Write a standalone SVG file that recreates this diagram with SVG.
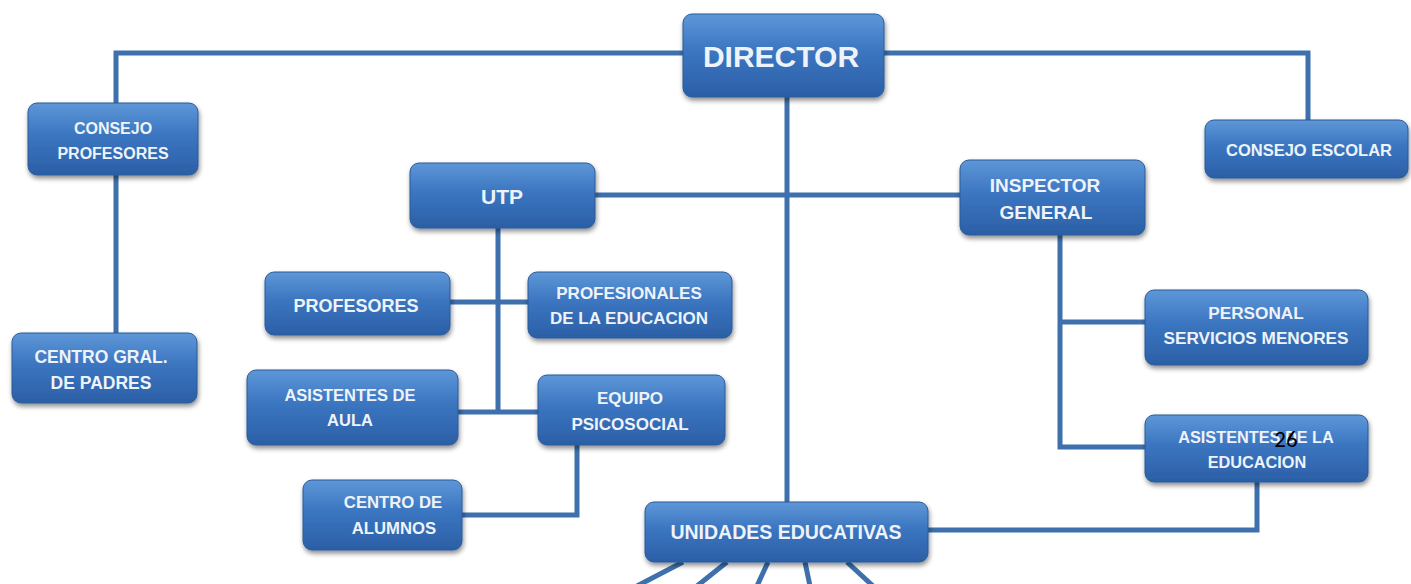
<svg xmlns="http://www.w3.org/2000/svg" width="1411" height="584" viewBox="0 0 1411 584">
<defs>
<linearGradient id="bg" x1="0" y1="0" x2="0" y2="1">
<stop offset="0" stop-color="#5e97d8"/>
<stop offset="0.45" stop-color="#3b75c0"/>
<stop offset="1" stop-color="#2b5fa6"/>
</linearGradient>
<filter id="sh" x="-20%" y="-30%" width="140%" height="170%">
<feGaussianBlur in="SourceAlpha" stdDeviation="2.5"/>
<feOffset dx="1" dy="3" result="b"/>
<feComponentTransfer><feFuncA type="linear" slope="0.45"/></feComponentTransfer>
<feMerge><feMergeNode/><feMergeNode in="SourceGraphic"/></feMerge>
</filter>
</defs>
<style>
.box{fill:url(#bg);stroke:#2a5a98;stroke-width:1;filter:url(#sh)}
.t{font-family:"Liberation Sans",Arial,sans-serif;font-weight:bold;fill:#eef3fa;text-anchor:middle;font-size:17px}
.c{fill:none;stroke:#3d70ad;stroke-width:5}
</style>
<rect width="1411" height="584" fill="#ffffff"/>
<g id="connectors">
<path class="c" d="M116,103 V53 H683"/>
<path class="c" d="M884,53 H1308 V120"/>
<path class="c" d="M787,97 V502"/>
<path class="c" d="M595,195 H960"/>
<path class="c" d="M116,175 V333"/>
<path class="c" d="M498,228 V412"/>
<path class="c" d="M450,302 H528"/>
<path class="c" d="M458,412 H538"/>
<path class="c" d="M577,445 V515 H462"/>
<path class="c" d="M1060,235 V447 H1148"/>
<path class="c" d="M1060,322 H1145"/>
<path class="c" d="M928,530 H1257 V482"/>
<path class="c" d="M683,562 L637,586 M727,562 L697,586 M768,562 L757,586 M805,562 L810,586 M847,562 L873,586"/>
</g>
<g id="director"><rect class="box" x="683" y="14" width="201" height="83" rx="9"/><text class="t" x="781" y="67" style="font-size:30px">DIRECTOR</text></g>
<g id="consejo-profesores"><rect class="box" x="28" y="103" width="170" height="72" rx="9"/><text class="t" x="113" y="134" style="font-size:16px">CONSEJO</text><text class="t" x="113" y="159" style="font-size:16px">PROFESORES</text></g>
<g id="consejo-escolar"><rect class="box" x="1205" y="120" width="203" height="58" rx="9"/><text class="t" x="1309" y="156" style="font-size:16.5px">CONSEJO ESCOLAR</text></g>
<g id="utp"><rect class="box" x="410" y="163" width="185" height="65" rx="9"/><text class="t" x="502" y="204" style="font-size:21px">UTP</text></g>
<g id="inspector-general"><rect class="box" x="960" y="160" width="185" height="75" rx="9"/><text class="t" x="1045" y="192" style="font-size:19px">INSPECTOR</text><text class="t" x="1046" y="219" style="font-size:19px">GENERAL</text></g>
<g id="profesores"><rect class="box" x="265" y="272" width="185" height="63" rx="9"/><text class="t" x="356" y="312" style="font-size:18px">PROFESORES</text></g>
<g id="profesionales"><rect class="box" x="528" y="272" width="204" height="66" rx="9"/><text class="t" x="629" y="299">PROFESIONALES</text><text class="t" x="629" y="324">DE LA EDUCACION</text></g>
<g id="asistentes-aula"><rect class="box" x="247" y="370" width="211" height="75" rx="9"/><text class="t" x="350" y="401" style="font-size:16.5px">ASISTENTES DE</text><text class="t" x="350" y="426" style="font-size:16.5px">AULA</text></g>
<g id="equipo-psicosocial"><rect class="box" x="538" y="375" width="187" height="70" rx="9"/><text class="t" x="630" y="404">EQUIPO</text><text class="t" x="630" y="430">PSICOSOCIAL</text></g>
<g id="centro-alumnos"><rect class="box" x="303" y="480" width="159" height="70" rx="9"/><text class="t" x="393" y="508" style="font-size:16.7px">CENTRO DE</text><text class="t" x="394" y="534" style="font-size:16.7px">ALUMNOS</text></g>
<g id="centro-padres"><rect class="box" x="12" y="333" width="185" height="70" rx="9"/><text class="t" x="101" y="363" style="font-size:17.5px">CENTRO GRAL.</text><text class="t" x="101" y="389" style="font-size:17.5px">DE PADRES</text></g>
<g id="personal"><rect class="box" x="1145" y="290" width="223" height="75" rx="9"/><text class="t" x="1256" y="319" style="font-size:17.2px">PERSONAL</text><text class="t" x="1256" y="344" style="font-size:17.2px">SERVICIOS MENORES</text></g>
<g id="asistentes-educacion"><rect class="box" x="1145" y="415" width="223" height="67" rx="9"/><text class="t" x="1256" y="443" style="font-size:16.3px">ASISTENTES DE LA</text><text class="t" x="1257" y="468" style="font-size:16.3px">EDUCACION</text></g>
<g id="unidades"><rect class="box" x="645" y="502" width="283" height="60" rx="9"/><text class="t" x="786" y="539" style="font-size:19.5px">UNIDADES EDUCATIVAS</text></g>
<text x="1286" y="447" font-family="Carlito,'Liberation Sans',sans-serif" font-size="23" fill="#000000" text-anchor="middle">26</text>
</svg>
